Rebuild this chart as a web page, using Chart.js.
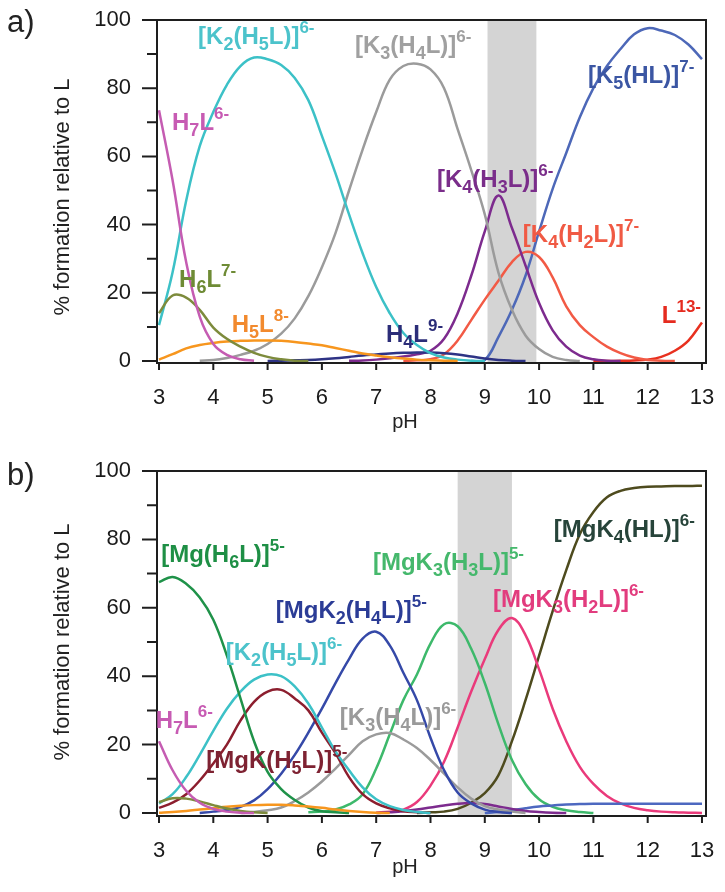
<!DOCTYPE html>
<html>
<head>
<meta charset="utf-8">
<script src="https://cdn.jsdelivr.net/npm/chart.js@4.4.1/dist/chart.umd.min.js"></script>
<style>
  html, body { margin: 0; padding: 0; background: #fff; }
  body { width: 725px; height: 892px; position: relative; overflow: hidden; }
  canvas { position: absolute; left: 0; }
  #ca { top: 0; }
  #cb { top: 440px; }
</style>
</head>
<body>
<canvas id="ca" width="725" height="440"></canvas>
<canvas id="cb" width="725" height="452"></canvas>
<script>
// speciation curves, % formation relative to L vs pH
const _ = null;

const pH = [3, 3.25, 3.5, 3.75, 4, 4.25, 4.5, 4.75, 5, 5.25,
            5.5, 5.75, 6, 6.25, 6.5, 6.75, 7, 7.25, 7.5, 7.75,
            8, 8.25, 8.5, 8.75, 9, 9.25, 9.5, 9.75, 10, 10.25,
            10.5, 10.75, 11, 11.25, 11.5, 11.75, 12, 12.25, 12.5, 12.75, 13];

const xTicks = [3, 4, 5, 6, 7, 8, 9, 10, 11, 12, 13];
const yTicks = [0, 10, 20, 30, 40, 50, 60, 70, 80, 90, 100];

// ---- panel a ----
const aH7L = [73.5, 53, 29, 13, 5, 1.8, 0.5, 0.1, _, _,
              _, _, _, _, _, _, _, _, _, _,
              _, _, _, _, _, _, _, _, _, _,
              _, _, _, _, _, _, _, _, _, _, _];
const aH6L = [14, 19.2, 18.6, 15, 9.8, 6.5, 4.2, 2.4, 1.2, 0.5,
              0.1, 0, _, _, _, _, _, _, _, _,
              _, _, _, _, _, _, _, _, _, _,
              _, _, _, _, _, _, _, _, _, _, _];
const aH5L = [0.4, 2, 3.7, 4.7, 5.3, 5.7, 5.9, 6, 6, 5.9,
              5.6, 5.1, 4.6, 3.8, 3, 2.2, 1.6, 1.1, 0.7, 0.4,
              0.2, 0.1, 0, _, _, _, _, _, _, _,
              _, _, _, _, _, _, _, _, _, _, _];
const aK2H5L = [10.5, 26, 47, 63, 73, 81, 86.5, 89, 88.5, 86.8,
                83, 76.5, 66, 55, 43, 31.6, 21.7, 14, 8.2, 4.7,
                2.3, 1.0, 0.4, 0.1, 0, _, _, _, _, _,
                _, _, _, _, _, _, _, _, _, _, _];
const aK3H4L = [_, _, _, 0.1, 0.3, 0.9, 1.8, 3.0, 5.0, 8,
                12.5, 19, 27.5, 37.5, 50, 62, 73, 82.5, 86.5, 87.2,
                85.5, 80, 68, 56, 43, 26, 15, 7.5, 3.5, 1.2,
                0.3, 0, _, _, _, _, _, _, _, _, _];
const aH4L = [_, _, _, _, _, _, _, _, 0, 0.1,
              0.2, 0.3, 0.5, 0.8, 1.2, 1.6, 1.9, 2.2, 2.4, 2.5,
              2.5, 2.3, 1.9, 1.3, 0.7, 0.3, 0.1, 0, _, _,
              _, _, _, _, _, _, _, _, _, _, _];
const aK4H3L = [_, _, _, _, _, _, _, _, _, _,
                _, _, _, _, 0.05, 0.15, 0.4, 0.8, 1.3, 2,
                3, 6.5, 14, 25, 38, 48.5, 39, 28, 17, 9,
                4.2, 1.6, 0.5, 0.1, 0, _, _, _, _, _, _];
const aK4H2L = [_, _, _, _, _, _, _, _, _, _,
                _, _, _, _, _, _, _, _, 0, 0.2,
                0.5, 2, 6, 12, 18, 23.5, 29, 32, 30.5, 24.5,
                16, 10.5, 7, 4.2, 2.3, 1.0, 0.3, 0.1, 0, _, _];
const aK5HL = [_, _, _, _, _, _, _, _, _, _,
               _, _, _, _, _, _, _, _, _, _,
               _, _, _, 0, 0.3, 7, 15, 25, 38, 50.5,
               61, 71.5, 80, 86.5, 91.5, 95.8, 97.6, 96.9, 95.6, 92.8, 88.5];
const aL = [_, _, _, _, _, _, _, _, _, _,
            _, _, _, _, _, _, _, _, _, _,
            _, _, _, _, _, _, _, _, _, _,
            _, _, 0, 0, 0.05, 0.15, 0.4, 1.2, 3, 6, 11.3];

// ---- panel b ----
const bH7L = [21, 12.5, 6.5, 3, 1.2, 0.4, 0.1, 0, _, _,
              _, _, _, _, _, _, _, _, _, _,
              _, _, _, _, _, _, _, _, _, _,
              _, _, _, _, _, _, _, _, _, _, _];
const bH6L = [3.2, 4.3, 4.2, 3.4, 2.3, 1.3, 0.6, 0.2, 0, _,
              _, _, _, _, _, _, _, _, _, _,
              _, _, _, _, _, _, _, _, _, _,
              _, _, _, _, _, _, _, _, _, _, _];
const bH5L = [0.1, 0.3, 0.6, 1, 1.4, 1.8, 2.1, 2.3, 2.4, 2.4,
              2.2, 1.9, 1.5, 1.0, 0.6, 0.3, 0.1, 0, _, _,
              _, _, _, _, _, _, _, _, _, _,
              _, _, _, _, _, _, _, _, _, _, _];
const bMgH6L = [67.5, 69, 67, 63, 56.5, 46, 33.5, 21, 12, 7,
                3.8, 1.6, 0.5, 0.2, 0, _, _, _, _, _,
                _, _, _, _, _, _, _, _, _, _,
                _, _, _, _, _, _, _, _, _, _, _];
const bK2H5L = [2.8, 5.5, 10.5, 17, 24, 30.5, 35.5, 39, 40.5, 40,
                37, 32, 25, 18, 12.5, 7.5, 4, 2, 0.9, 0.3,
                0, _, _, _, _, _, _, _, _, _,
                _, _, _, _, _, _, _, _, _, _, _];
const bMgKH5L = [1.5, 3, 5.5, 9.5, 14.5, 20, 27, 32.5, 35.5, 36,
                 33.5, 30, 23.5, 17.5, 10.5, 5.5, 2.8, 1.4, 0.5, 0.2,
                 0, _, _, _, _, _, _, _, _, _,
                 _, _, _, _, _, _, _, _, _, _, _];
const bMgK2H4L = [_, _, _, 0, 0.4, 0.9, 1.8, 3.7, 7, 11.5,
                  17, 23.5, 30.5, 38, 45, 51, 53, 49, 41, 33,
                  22, 12.5, 6, 2.8, 1.0, 0.3, 0, _, _, _,
                  _, _, _, _, _, _, _, _, _, _, _];
const bK3H4L = [_, _, _, _, _, _, 0, 0.3, 0.8, 1.6,
                3.5, 6, 9.2, 13, 17, 21, 23, 23.4, 21.5, 19,
                15.5, 11.5, 7.5, 4.2, 2, 1, 0.4, 0, _, _,
                _, _, _, _, _, _, _, _, _, _, _];
const bMgK3H3L = [_, _, _, _, _, _, _, _, _, _,
                  _, 0.2, 0.4, 1, 2.5, 5.5, 13, 23, 33, 40.5,
                  49.5, 55.2, 54.6, 48, 38, 26, 15.5, 8.5, 4, 1.8,
                  0.8, 0.3, 0, _, _, _, _, _, _, _, _];
const bMgK3H2L = [_, _, _, _, _, _, _, _, _, _,
                  _, _, _, _, _, _, 0.1, 0.4, 1, 3.2,
                  8, 15, 25, 35.5, 45, 53.5, 57, 52, 42, 30.5,
                  21, 13.5, 8.5, 5, 2.8, 1.5, 0.8, 0.4, 0.2, 0.1, 0];
const bMgK4HL = [_, _, _, _, _, _, _, _, _, _,
                 _, _, _, _, _, _, _, _, _, 0,
                 0.2, 0.4, 1.2, 3, 5.8, 11, 21, 33, 46, 59,
                 71, 81.5, 88, 92.3, 94.2, 95, 95.4, 95.5, 95.6, 95.6, 95.7];
const bK4H3L = [_, _, _, _, _, _, _, _, _, _,
                _, _, _, _, _, _, 0, 0.2, 0.5, 1,
                1.6, 2.2, 2.7, 2.9, 2.6, 1.9, 1.2, 0.6, 0.3, 0.1,
                0, _, _, _, _, _, _, _, _, _, _];
const bK5HL = [_, _, _, _, _, _, _, _, _, _,
               _, _, _, _, _, _, _, _, _, _,
               _, _, _, _, 0, 0.3, 0.8, 1.4, 1.9, 2.2,
               2.5, 2.6, 2.7, 2.7, 2.7, 2.7, 2.7, 2.7, 2.7, 2.7, 2.7];

// shaded pH windows
const bandA = [9.05, 9.95];
const bandB = [8.5, 9.5];

// species labels: markup text, colour, pH, % (left / baseline)
const labelsA = [
  ["[K_2(H_5L)]^{6-}", "#4cc3cb", 3.72, 93],
  ["[K_3(H_4L)]^{6-}", "#a0a0a0", 6.61, 90.3],
  ["H_7L^{6-}", "#c75bb3", 3.24, 67.7],
  ["H_6L^{7-}", "#6e8b35", 3.37, 21.7],
  ["H_5L^{8-}", "#f28a2e", 4.34, 8.5],
  ["H_4L^{9-}", "#2b2d78", 7.18, 5.6],
  ["[K_4(H_3L)]^{6-}", "#7a2d8a", 8.12, 51],
  ["[K_4(H_2L)]^{7-}", "#f05a44", 9.7, 34.9],
  ["[K_5(HL)]^{7-}", "#3b56a3", 10.9, 81.5],
  ["L^{13-}", "#e52b1f", 12.26, 11.1]
];
const labelsB = [
  ["[Mg(H_6L)]^{5-}", "#1e8f45", 3.04, 73.4],
  ["[K_2(H_5L)]^{6-}", "#4cc3cb", 4.23, 44.7],
  ["H_7L^{6-}", "#c75bb3", 2.94, 24.9],
  ["[MgK_2(H_4L)]^{5-}", "#2b3c96", 5.15, 57],
  ["[K_3(H_4L)]^{6-}", "#9a9a9a", 6.33, 25.7],
  ["[MgK_3(H_3L)]^{5-}", "#45b86c", 6.94, 71.1],
  ["[MgK_3(H_2L)]^{6-}", "#e23c7e", 9.15, 60.2],
  ["[MgK_4(HL)]^{6-}", "#27443a", 10.27, 80.7],
  ["[MgK(H_5L)]^{5-}", "#7e2232", 3.87, 13.2]
];

const FAM = '"Liberation Sans", Arial, Helvetica, sans-serif';

function drawRich(ctx, text, x, y, color) {
  ctx.fillStyle = color;
  ctx.textAlign = "left";
  ctx.textBaseline = "alphabetic";
  let i = 0;
  while (i < text.length) {
    let t, font = "bold 24px " + FAM, dy = 0;
    if (text[i] === "_") {
      t = text[i + 1]; font = "bold 18px " + FAM; dy = 6; i += 2;
    } else if (text[i] === "^") {
      const j = text.indexOf("}", i);
      t = text.slice(i + 2, j); font = "bold 17px " + FAM; dy = -11; i = j + 1;
    } else {
      t = text[i]; i++;
    }
    ctx.font = font;
    ctx.fillText(t, x, y + dy);
    x += ctx.measureText(t).width;
  }
}

const decor = {
  id: "decor",
  beforeDatasetsDraw(chart, args, o) {
    const {ctx, chartArea: a, scales: {x}} = chart;
    const x0 = x.getPixelForValue(o.band[0]);
    const x1 = x.getPixelForValue(o.band[1]);
    ctx.save();
    ctx.fillStyle = "#d4d4d4";
    ctx.fillRect(x0, a.top, x1 - x0, a.bottom - a.top);
    ctx.restore();
  },
  afterDraw(chart, args, o) {
    const {ctx, chartArea: a, scales: {x, y}} = chart;
    ctx.save();
    // frame
    ctx.strokeStyle = "#1e1e1e";
    ctx.lineWidth = 2;
    ctx.strokeRect(a.left, a.top, a.right - a.left, a.bottom - a.top);
    // ticks
    ctx.beginPath();
    y.ticks.forEach(t => {
      const py = y.getPixelForValue(t.value);
      const len = t.value % 20 === 0 ? 15 : 10;
      ctx.moveTo(a.left - len, py);
      ctx.lineTo(a.left, py);
    });
    x.ticks.forEach(t => {
      const px = x.getPixelForValue(t.value);
      ctx.moveTo(px, a.bottom);
      ctx.lineTo(px, a.bottom + 7);
    });
    ctx.stroke();

    // species labels
    o.labels.forEach(([txt, col, lx, ly]) => {
      drawRich(ctx, txt, x.getPixelForValue(lx), y.getPixelForValue(ly), col);
    });

    // axis titles and panel letter
    ctx.fillStyle = "#222";
    ctx.font = "20px " + FAM;
    ctx.textAlign = "center";
    ctx.textBaseline = "alphabetic";
    ctx.fillText("pH", 405, o.pHBase);
    ctx.save();
    ctx.translate(69, o.yTitleMid);
    ctx.rotate(-Math.PI / 2);
    ctx.font = "22px " + FAM;
    ctx.fillText("% formation relative to L", 0, 0);
    ctx.restore();
    ctx.font = "31px " + FAM;
    ctx.textAlign = "left";
    ctx.fillText(o.letter, 7, o.letterBase);
    ctx.restore();
  }
};

function series(vals, color) {
  return {
    data: pH.map((p, i) => ({x: p, y: vals[i]})),
    borderColor: color,
    borderWidth: 2.5,
    pointRadius: 0,
    fill: false,
    tension: 0.4,
    spanGaps: false
  };
}

function makeChart(id, datasets, cfg) {
  return new Chart(document.getElementById(id), {
    type: "line",
    data: {datasets},
    plugins: [decor],
    options: {
      responsive: false,
      animation: false,
      events: [],
      layout: {padding: {left: 0, top: cfg.top, right: 19, bottom: 0}},
      plugins: {
        legend: {display: false},
        tooltip: {enabled: false},
        decor: cfg.decor
      },
      scales: {
        x: {
          type: "linear",
          min: 2.963, max: 13.074,
          grid: {display: false},
          border: {display: false},
          afterBuildTicks: s => { s.ticks = xTicks.map(v => ({value: v})); },
          afterFit: s => { s.height = cfg.xh; s.paddingLeft = 0; s.paddingRight = 0; },
          ticks: {
            autoSkip: false, maxRotation: 0, padding: 14,
            color: "#1a1a1a", font: {family: FAM, size: 22},
            callback: v => v
          }
        },
        y: {
          type: "linear",
          min: cfg.ymin, max: 100,
          grid: {display: false},
          border: {display: false},
          afterBuildTicks: s => { s.ticks = yTicks.map(v => ({value: v})); },
          afterFit: s => { s.width = 157; s.paddingTop = 0; s.paddingBottom = 0; },
          ticks: {
            autoSkip: false, padding: 18,
            color: "#1a1a1a", font: {family: FAM, size: 22},
            callback: v => (v % 20 === 0 ? v : "")
          }
        }
      }
    }
  });
}

makeChart("ca", [
  series(aH7L, "#c55cb2"),
  series(aH6L, "#7d8b3c"),
  series(aH5L, "#f7961e"),
  series(aK2H5L, "#3cc1c7"),
  series(aK3H4L, "#9b9b9b"),
  series(aH4L, "#2e3385"),
  series(aK4H3L, "#7d2b8e"),
  series(aK4H2L, "#f25a45"),
  series(aK5HL, "#4d68b8"),
  series(aL, "#e8301f")
], {
  top: 20, xh: 77, ymin: -0.59,
  decor: {band: bandA, labels: labelsA, pHBase: 428, yTitleMid: 197, letter: "a)", letterBase: 32}
});

makeChart("cb", [
  series(bH7L, "#c55cb2"),
  series(bH6L, "#7d8b3c"),
  series(bH5L, "#f7961e"),
  series(bMgH6L, "#1f9249"),
  series(bK2H5L, "#3cc1c7"),
  series(bMgKH5L, "#8c1e2e"),
  series(bMgK2H4L, "#3549a8"),
  series(bK3H4L, "#9b9b9b"),
  series(bK4H3L, "#7d2b8e"),
  series(bK5HL, "#4d68c0"),
  series(bMgK3H3L, "#3db96b"),
  series(bMgK3H2L, "#ea3a7b"),
  series(bMgK4HL, "#4e4b1e")
], {
  top: 31, xh: 76, ymin: -0.88,
  decor: {band: bandB, labels: labelsB, pHBase: 433, yTitleMid: 202, letter: "b)", letterBase: 45}
});
</script>
</body>
</html>
